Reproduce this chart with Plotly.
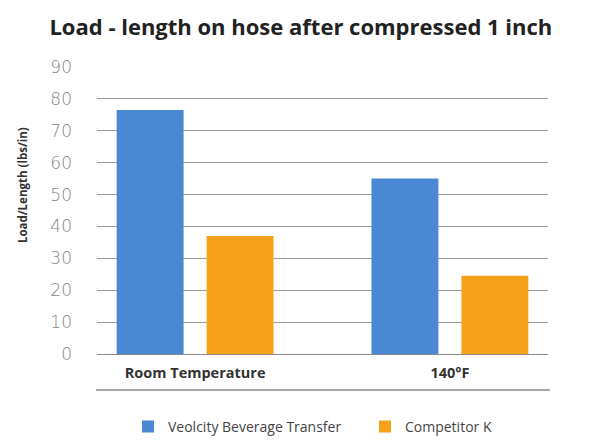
import plotly.graph_objects as go

categories = ["Room Temperature", "140°F"]
series_names = ["Veolcity Beverage Transfer", "Competitor K"]
velocity_values = [76.5, 55]
competitor_values = [37, 24.5]
y_ticks = [0, 10, 20, 30, 40, 50, 60, 70, 80, 90]

blue = "#4A88D4"
orange = "#F5A11C"

fig = go.Figure()
fig.add_trace(go.Bar(x=categories, y=velocity_values, name=series_names[0],
                     marker=dict(color=blue, line=dict(width=0))))
fig.add_trace(go.Bar(x=categories, y=competitor_values, name=series_names[1],
                     marker=dict(color=orange, line=dict(width=0))))

fig.update_layout(
    width=596, height=436,
    margin=dict(l=89, r=56, t=59, b=90, autoexpand=False),
    paper_bgcolor="white", plot_bgcolor="white",
    barmode="group", bargap=0.294, bargroupgap=0.256,
    font=dict(family="Open Sans", color="#333"),
    title=dict(text="<b>Load - length on hose after compressed 1 inch</b>",
               x=0.452, xref="paper", xanchor="center", y=0.956, yref="container",
               yanchor="middle",
               font=dict(family="Open Sans", size=22, color="#222")),
    xaxis=dict(type="category", range=[-0.385, 1.385], showgrid=False,
               showline=False, ticks="", ticklabelstandoff=8, automargin=False,
               tickfont=dict(family="Open Sans", size=14.5, color="#333", weight="bold")),
    yaxis=dict(range=[0, 90], tickvals=y_ticks, showgrid=True, gridcolor="#9a9a9a",
               gridwidth=1, zeroline=True, zerolinecolor="#888", zerolinewidth=1,
               showline=False, ticks="", ticklabelstandoff=24, automargin=False,
               tickfont=dict(family="DejaVu Sans", size=17, color="#858585", weight=300)),
    legend=dict(orientation="h", x=1.1197, xanchor="right", y=-0.254, yanchor="middle",
                font=dict(family="Open Sans", size=14, color="#444"),
                itemwidth=30, traceorder="normal",
                entrywidth=192, entrywidthmode="pixels"),
    showlegend=True,
)

fig.add_shape(type="line", xref="paper", yref="paper", x0=-0.002, x1=1.004,
              y0=-0.1254, y1=-0.1254, line=dict(color="#888", width=1.5))

fig.add_annotation(text="<b>Load/Length (lbs/in)</b>", xref="paper", yref="paper",
                   x=-0.164, y=0.589, textangle=-90, showarrow=False,
                   xanchor="center", yanchor="middle",
                   font=dict(family="Open Sans", size=11.5, color="#333"))

fig.write_html("out.html")
